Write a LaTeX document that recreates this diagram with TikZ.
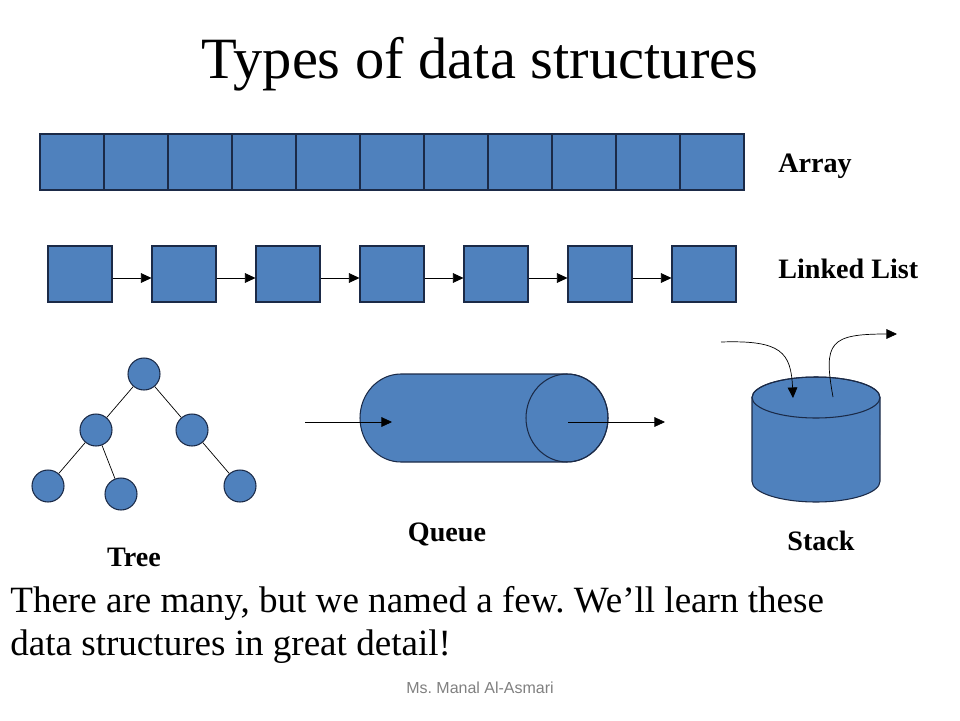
\documentclass[tikz,border=0pt]{standalone}
\usepackage{fontspec}
\setmainfont{Liberation Serif}
\newfontfamily\footfont{Liberation Sans}
\usetikzlibrary{arrows.meta}
\definecolor{boxblue}{HTML}{4F81BD}
\definecolor{edgeblue}{HTML}{1B2A47}
\frenchspacing
\begin{document}
\begin{tikzpicture}[x=0.02cm,y=-0.02cm,
    cell/.style={draw=edgeblue,fill=boxblue,line width=0.6pt,minimum width=1.28cm,minimum height=1.12cm,inner sep=0pt},
    leaf/.style={circle,draw=edgeblue,fill=boxblue,line width=0.6pt,minimum size=0.64cm,inner sep=0pt},
    tag/.style={font=\fontsize{16}{19}\selectfont\bfseries,inner sep=0pt},
    tip/.style={-{Triangle[length=6pt,width=5.5pt]}},
    low/.style={yshift=-0.08cm}]
      \useasboundingbox (0,0) rectangle (960,720);
      \node (title) at (480,78) [anchor=base,font=\fontsize{33.3}{40}\selectfont,inner sep=0pt] {Types of data structures};
      % array
      \node (a1) at (72,162) [cell] {}; \node (a2) at (136,162) [cell] {}; \node (a3) at (200,162) [cell] {};
      \node (a4) at (264,162) [cell] {}; \node (a5) at (328,162) [cell] {}; \node (a6) at (392,162) [cell] {};
      \node (a7) at (456,162) [cell] {}; \node (a8) at (520,162) [cell] {}; \node (a9) at (584,162) [cell] {};
      \node (a10) at (648,162) [cell] {}; \node (a11) at (712,162) [cell] {};
      \node (array) at (778,166) [tag,anchor=west] {Array};
      % linked list
      \node (l1) at (80,274) [cell] {}; \node (l2) at (184,274) [cell] {}; \node (l3) at (288,274) [cell] {};
      \node (l4) at (392,274) [cell] {}; \node (l5) at (496,274) [cell] {}; \node (l6) at (600,274) [cell] {};
      \node (l7) at (704,274) [cell] {};
      \draw[tip] ([low]l1.east) -- ([low]l2.west); \draw[tip] ([low]l2.east) -- ([low]l3.west); \draw[tip] ([low]l3.east) -- ([low]l4.west);
      \draw[tip] ([low]l4.east) -- ([low]l5.west); \draw[tip] ([low]l5.east) -- ([low]l6.west); \draw[tip] ([low]l6.east) -- ([low]l7.west);
      \node (list) at (778,269) [tag,anchor=west] {Linked List};
      % tree
      \node (root) at (144,374) [leaf] {}; \node (tl) at (96,430) [leaf] {}; \node (tr) at (192,430) [leaf] {};
      \node (tll) at (48,486) [leaf] {}; \node (tlr) at (121,494) [leaf] {}; \node (trr) at (240,486) [leaf] {};
      \draw (root) -- (tl); \draw (root) -- (tr); \draw (tl) -- (tll); \draw (tl) -- (tlr); \draw (tr) -- (trr);
      \node (tree) at (134,557) [tag] {Tree};
      % queue
      \draw[draw=edgeblue,fill=boxblue,line width=0.6pt] (401,374) -- (567,374) arc (90:-90:0.82cm and 0.88cm) -- (401,462) arc (270:90:0.82cm and 0.88cm) -- cycle;
      \draw[draw=edgeblue,line width=0.6pt] (567,418) ellipse [x radius=0.82cm,y radius=0.88cm];
      \coordinate (qin) at (305,422); \coordinate (qback) at (392,422);
      \coordinate (qfront) at (568,422); \coordinate (qout) at (665,422);
      \draw[tip] (qin) -- (qback); \draw[tip] (qfront) -- (qout);
      \node (queue) at (447,534) [tag] {Queue};
      % stack
      \draw[draw=edgeblue,fill=boxblue,line width=0.6pt] (752,397.5) -- (752,481.5) arc (180:360:1.28cm and 0.41cm) -- (880,397.5) arc (0:180:1.28cm and 0.41cm) -- cycle;
      \draw[draw=edgeblue,line width=0.6pt] (816,397.5) ellipse [x radius=1.28cm,y radius=0.41cm];
      \coordinate (push) at (721,342); \coordinate (top) at (793,398);
      \coordinate (popped) at (833,397); \coordinate (pop) at (897,334);
      \draw[tip] (push) .. controls (781,340) and (791,352) .. (top);
      \draw[tip] (popped) .. controls (823,342) and (830,334) .. (pop);
      \node (stack) at (821,541) [tag] {Stack};
      % text
      \node (line1) at (10,612) [anchor=base west,inner sep=0pt,font=\fontsize{21.1}{25}\selectfont] {There are many, but we named a few. We’ll learn these};
      \node (line2) at (10,655) [anchor=base west,inner sep=0pt,font=\fontsize{21.1}{25}\selectfont] {data structures in great detail!};
      \node (author) at (480,688) [inner sep=0pt,text=black!50,font=\footfont\fontsize{9.1}{11}\selectfont] {Ms. Manal Al-Asmari};
\end{tikzpicture}
\end{document}
